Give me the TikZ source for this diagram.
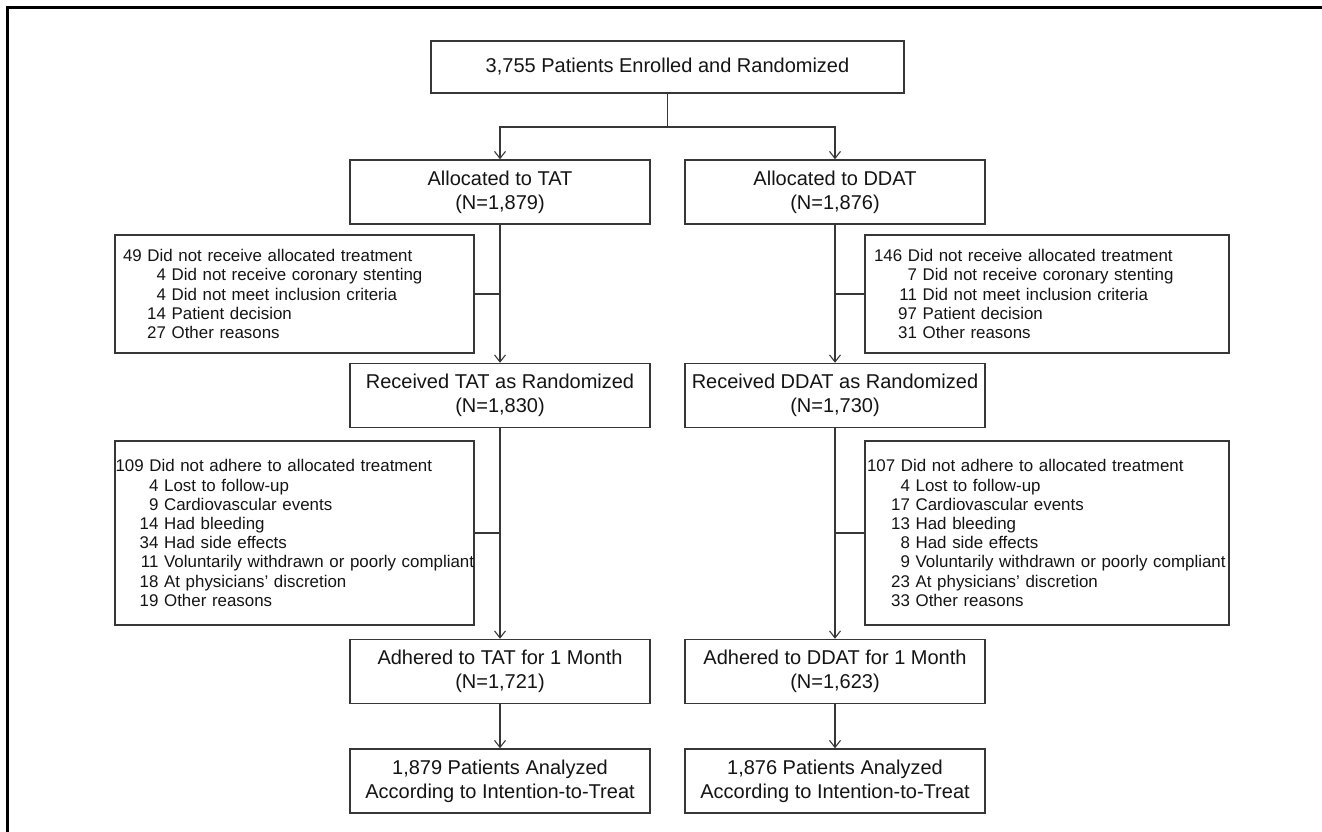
\documentclass[tikz,border=0pt]{standalone}
\usepackage{fontspec}
\setmainfont{Liberation Sans}
\usetikzlibrary{arrows.meta}
\setlength\parindent{0pt}
\hyphenpenalty=10000
\exhyphenpenalty=10000
\definecolor{linec}{RGB}{55,55,55}
\definecolor{txtc}{RGB}{20,20,20}
\newcommand\exline[2]{\mbox{\makebox[43pt][r]{#1}\ #2}}
\tikzset{
  mbox/.style={draw=linec, line width=1.5pt, minimum width=300pt, minimum height=64pt,
    align=center, inner sep=0pt, text=txtc, font=\fontsize{20}{24}\selectfont},
  exbox/.style={draw=linec, line width=1.5pt, align=left, inner ysep=0pt, text=txtc,
    font=\fontsize{16.9}{19.2}\selectfont},
  conn/.style={draw=linec, line width=1.3pt},
  arr/.style={conn, -{Straight Barb[length=7pt,width=11pt,line width=1.1pt]}},
}
\begin{document}
\begin{tikzpicture}[x=1pt,y=-1pt]
\useasboundingbox (0,0) rectangle (1322,832);
\draw[line width=3pt, black] (7,840) -- (7,8) -- (1330,8);

\node[mbox, minimum width=473pt, minimum height=52pt] (top) at (667.5,67) {3,755 Patients Enrolled and Randomized};
\coordinate (sp) at (667.5,127);

\node[mbox] (tat) at (500,192) {Allocated to TAT\\(N=1,879)};
\node[mbox] (ddat) at (835,192) {Allocated to DDAT\\(N=1,876)};

\node[exbox, inner xsep=8pt, text width=343pt, minimum height=118pt] (exA) at (294.5,294)
 {49 Did not receive allocated treatment\\
  \exline{4}{Did not receive coronary stenting}\\
  \exline{4}{Did not meet inclusion criteria}\\
  \exline{14}{Patient decision}\\
  \exline{27}{Other reasons}};
\node[exbox, inner xsep=9pt, text width=346pt, minimum height=118pt] (exB) at (1047,294)
 {146 Did not receive allocated treatment\\
  \exline{7}{Did not receive coronary stenting}\\
  \exline{11}{Did not meet inclusion criteria}\\
  \exline{97}{Patient decision}\\
  \exline{31}{Other reasons}};

\node[mbox] (rtat) at (500,395.5) {Received TAT as Randomized\\(N=1,830)};
\node[mbox] (rddat) at (835,395.5) {Received DDAT as Randomized\\(N=1,730)};

\node[exbox, inner xsep=0.5pt, text width=358pt, minimum height=184pt] (exC) at (294.5,533)
 {109 Did not adhere to allocated treatment\\
  \exline{4}{Lost to follow-up}\\
  \exline{9}{Cardiovascular events}\\
  \exline{14}{Had bleeding}\\
  \exline{34}{Had side effects}\\
  \exline{11}{Voluntarily withdrawn or poorly compliant}\\
  \exline{18}{At physicians’ discretion}\\
  \exline{19}{Other reasons}};
\node[exbox, inner xsep=2pt, text width=360pt, minimum height=184pt] (exD) at (1047,533)
 {107 Did not adhere to allocated treatment\\
  \exline{4}{Lost to follow-up}\\
  \exline{17}{Cardiovascular events}\\
  \exline{13}{Had bleeding}\\
  \exline{8}{Had side effects}\\
  \exline{9}{Voluntarily withdrawn or poorly compliant}\\
  \exline{23}{At physicians’ discretion}\\
  \exline{33}{Other reasons}};

\node[mbox] (atat) at (500,671.5) {Adhered to TAT for 1 Month\\(N=1,721)};
\node[mbox] (addat) at (835,671.5) {Adhered to DDAT for 1 Month\\(N=1,623)};

\node[mbox] (ntat) at (500,781) {1,879 Patients Analyzed\\According to Intention-to-Treat};
\node[mbox] (nddat) at (835,781) {1,876 Patients Analyzed\\According to Intention-to-Treat};

\draw[conn] (top) -- (sp);
\draw[arr] (sp) -| (tat);
\draw[arr] (sp) -| (ddat);
\draw[arr] (tat) -- (rtat);
\draw[arr] (ddat) -- (rddat);
\draw[conn] (exA.east) -- (exA.east -| tat.south);
\draw[conn] (exB.west) -- (exB.west -| ddat.south);
\draw[arr] (rtat) -- (atat);
\draw[arr] (rddat) -- (addat);
\draw[conn] (exC.east) -- (exC.east -| rtat.south);
\draw[conn] (exD.west) -- (exD.west -| rddat.south);
\draw[arr] (atat) -- (ntat);
\draw[arr] (addat) -- (nddat);
\end{tikzpicture}
\end{document}
